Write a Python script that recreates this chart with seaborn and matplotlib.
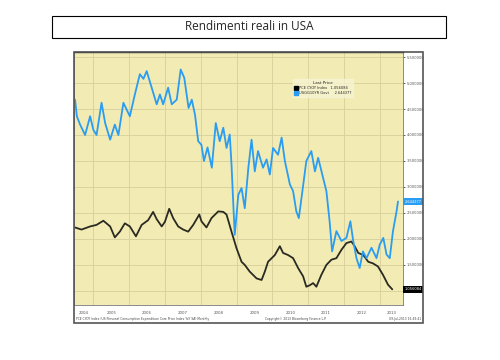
import numpy as np
import pandas as pd
import matplotlib
matplotlib.use("Agg")
import matplotlib.pyplot as plt
import seaborn as sns
from matplotlib.patches import Rectangle
from matplotlib.lines import Line2D

sns.set_style("white")
plt.rcParams['font.family'] = ['DejaVu Sans']

# 10y treasury yield (blue)
us10y_t = [2004.49, 2004.54, 2004.63, 2004.77, 2004.91, 2005.0, 2005.09, 2005.23, 2005.33, 2005.47,
           2005.6, 2005.7, 2005.84, 2005.93, 2006.02, 2006.16, 2006.3, 2006.4, 2006.49, 2006.63,
           2006.77, 2006.86, 2006.95, 2007.09, 2007.19, 2007.33, 2007.44, 2007.54, 2007.66, 2007.75,
           2007.84, 2007.93, 2008.02, 2008.09, 2008.19, 2008.31, 2008.42, 2008.53, 2008.63, 2008.72,
           2008.81, 2008.86, 2008.91, 2008.95, 2009.05, 2009.14, 2009.23, 2009.33, 2009.42, 2009.51,
           2009.6, 2009.74, 2009.84, 2009.93, 2010.02, 2010.16, 2010.26, 2010.35, 2010.49, 2010.58,
           2010.67, 2010.74, 2010.84, 2010.95, 2011.09, 2011.19, 2011.28, 2011.42, 2011.51, 2011.6,
           2011.67, 2011.79, 2011.93, 2012.07, 2012.18, 2012.26, 2012.35, 2012.44, 2012.53, 2012.63,
           2012.77, 2012.91, 2013.0, 2013.1, 2013.19, 2013.28, 2013.37, 2013.47, 2013.51]
us10y_v = [4.68, 4.36, 4.20, 4.00, 4.36, 4.10, 4.00, 4.62, 4.23, 3.91,
           4.20, 4.00, 4.62, 4.49, 4.36, 4.78, 5.17, 5.08, 5.23, 4.91,
           4.59, 4.78, 4.59, 4.91, 4.59, 4.68, 5.26, 5.10, 4.52, 4.68,
           4.39, 3.88, 3.81, 3.50, 3.76, 3.37, 4.23, 3.88, 4.14, 3.75,
           4.01, 3.43, 2.66, 2.08, 2.85, 2.98, 2.59, 3.37, 3.91, 3.30,
           3.69, 3.37, 3.53, 3.24, 3.75, 3.62, 3.95, 3.50, 3.05, 2.92,
           2.53, 2.40, 2.92, 3.50, 3.69, 3.30, 3.56, 3.17, 2.92, 2.34,
           1.76, 2.15, 1.96, 2.02, 2.34, 1.96, 1.63, 1.44, 1.76, 1.63,
           1.83, 1.63, 1.89, 2.02, 1.70, 1.63, 2.15, 2.53, 2.72]

# core PCE yoy (black)
pce_t = [2004.49, 2004.67, 2004.91, 2005.09, 2005.28, 2005.47, 2005.6, 2005.74, 2005.88, 2006.02,
         2006.19, 2006.35, 2006.53, 2006.67, 2006.77, 2006.91, 2007.0, 2007.12, 2007.23, 2007.37,
         2007.51, 2007.65, 2007.79, 2007.96, 2008.02, 2008.16, 2008.3, 2008.49, 2008.63, 2008.72,
         2008.86, 2009.0, 2009.14, 2009.23, 2009.37, 2009.56, 2009.7, 2009.79, 2009.88, 2010.07,
         2010.21, 2010.3, 2010.44, 2010.58, 2010.72, 2010.86, 2010.95, 2011.05, 2011.14, 2011.23,
         2011.37, 2011.51, 2011.65, 2011.79, 2011.93, 2012.07, 2012.21, 2012.3, 2012.4, 2012.54,
         2012.68, 2012.81, 2012.95, 2013.09, 2013.23, 2013.35]
pce_v = [2.22, 2.18, 2.24, 2.27, 2.35, 2.24, 2.03, 2.14, 2.30, 2.24,
         2.05, 2.27, 2.36, 2.52, 2.38, 2.24, 2.33, 2.58, 2.40, 2.24,
         2.18, 2.14, 2.27, 2.47, 2.34, 2.22, 2.40, 2.53, 2.52, 2.47,
         2.14, 1.82, 1.56, 1.50, 1.37, 1.24, 1.21, 1.37, 1.56, 1.69,
         1.86, 1.73, 1.69, 1.63, 1.44, 1.28, 1.08, 1.11, 1.15, 1.08,
         1.31, 1.50, 1.60, 1.63, 1.79, 1.92, 1.95, 1.86, 1.73, 1.69,
         1.56, 1.53, 1.47, 1.31, 1.12, 1.03]

y_ticks = [1.0, 1.5, 2.0, 2.5, 3.0, 3.5, 4.0, 4.5, 5.0, 5.5]
years = list(range(2004, 2014))

blue = "#2a9cf2"
dark = "#2b2a22"
x0, x1 = 2004.46, 2013.65
y0, y1 = 0.73, 5.60

df_b = pd.DataFrame({"t": us10y_t, "v": us10y_v})
df_k = pd.DataFrame({"t": pce_t, "v": pce_v})

fig = plt.figure(figsize=(5, 3.6), dpi=100)

# title box
fig.patches.append(Rectangle((0.104, 0.894), 0.788, 0.062, transform=fig.transFigure,
                             facecolor="white", edgecolor="black", lw=0.8))
fig.text(0.498, 0.925, "Rendimenti reali in USA", ha="center", va="center",
         fontsize=8.5, family="Open Sans")

ax = fig.add_axes([0.148, 0.153, 0.658, 0.703])
ax.set_facecolor("#f2ecb4")

sns.lineplot(data=df_k, x="t", y="v", ax=ax, color=dark, lw=1.3)
sns.lineplot(data=df_b, x="t", y="v", ax=ax, color=blue, lw=1.3)

ax.set_xlim(x0, x1)
ax.set_ylim(y0, y1)

ax.yaxis.tick_right()
ax.set_yticks(y_ticks)
# lowest label sits under the black value tag, as in the screenshot
ax.set_yticklabels([""] + [f"{v:.6f}" for v in y_ticks[1:]], fontsize=2.6, color="#555555")
ax.tick_params(axis="y", length=1.5, width=0.5, pad=1)

# year labels centred in the visible part of each year
label_pos = [(max(y, x0) + min(y + 1, x1)) / 2 for y in years]
ax.set_xticks(years[1:])
ax.set_xticklabels([])
ax.set_xticks(label_pos, minor=True)
ax.set_xticklabels([str(y) for y in years], minor=True, fontsize=2.8, color="#555555")
ax.tick_params(axis="x", which="both", length=1.5, width=0.4, pad=3)
ax.set_xlabel("")
ax.set_ylabel("")

ax.grid(True, which="major", color="#d6cf9c", lw=0.6)
for s in ax.spines.values():
    s.set_color("#777777")
    s.set_linewidth(0.6)
ax.spines["top"].set_color("#222222")
ax.spines["top"].set_linewidth(1.0)

# value tags on the right axis
ax.text(1.004, (us10y_v[-1] - y0) / (y1 - y0), "2.644377", transform=ax.transAxes,
        fontsize=2.6, color="white", va="center", ha="left",
        bbox=dict(boxstyle="square,pad=0.4", fc=blue, ec="none"))
ax.text(1.004, (pce_v[-1] - y0) / (y1 - y0), "1.056084", transform=ax.transAxes,
        fontsize=2.6, color="white", va="center", ha="left",
        bbox=dict(boxstyle="square,pad=0.4", fc="black", ec="none"))

handles = [Line2D([], [], ls="none", marker="s", ms=2.5, color="black"),
           Line2D([], [], ls="none", marker="s", ms=2.5, color=blue)]
leg = ax.legend(handles, ["PCE CYOY Index   1.056084", "USGG10YR Govt     2.644377"],
                title="Last Price", loc="upper left", bbox_to_anchor=(0.66, 0.9),
                fontsize=2.6, title_fontsize=3, frameon=True, handlelength=0.6,
                handletextpad=0.4, borderpad=0.6, labelspacing=0.3)
leg.get_frame().set_facecolor("#f7f3d2")
leg.get_frame().set_edgecolor("#f7f3d2")

# outer frame of the screenshot
fig.patches.append(Rectangle((0.148, 0.103), 0.698, 0.753, transform=fig.transFigure,
                             facecolor="none", edgecolor="#555555", lw=1.2, zorder=5))

# footer
fig.text(0.152, 0.108, "PCE CYOY Index (US Personal Consumption Expenditure Core Price Index YoY SA) Monthly",
         fontsize=2.2, color="#444444", va="bottom")
fig.text(0.53, 0.108, "Copyright\u00a9 2013 Bloomberg Finance L.P.", fontsize=2.2,
         color="#444444", va="bottom")
fig.text(0.842, 0.108, "09-Jul-2013 16:49:41", fontsize=2.2, color="#444444",
         va="bottom", ha="right")

fig.savefig("out.png", dpi=100)
